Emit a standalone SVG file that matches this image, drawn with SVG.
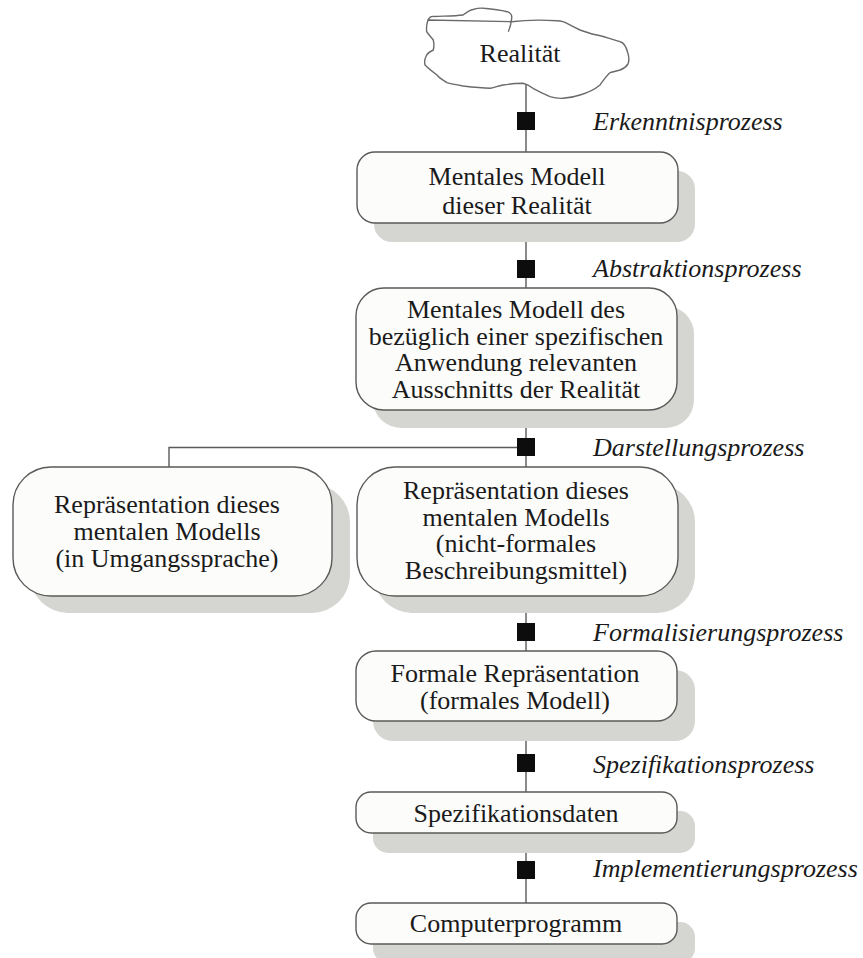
<svg xmlns="http://www.w3.org/2000/svg" width="863" height="958" viewBox="0 0 863 958">
  <style>
    .box { fill: #fcfcfa; stroke: #5a5a5a; stroke-width: 1.4; }
    .shadow { fill: #d5d5d1; }
    .line { fill: none; stroke: #5a5a5a; stroke-width: 1.4; }
    .mark { fill: #0d0d0d; }
    .txt { font-family: "Liberation Serif", "Times New Roman", serif; font-size: 26px; fill: #1a1a1a; text-anchor: middle; }
    .lbl { font-family: "Liberation Serif", "Times New Roman", serif; font-size: 26px; font-style: italic; fill: #1a1a1a; }
  </style>
  <rect width="863" height="958" fill="#ffffff"/>

  <!-- connectors -->
  <g id="connectors">
    <path class="line" d="M526 83 V152"/>
    <path class="line" d="M526 223 V288"/>
    <path class="line" d="M526 410 V467"/>
    <path class="line" d="M526 447.5 H169 V467"/>
    <path class="line" d="M526 596 V651"/>
    <path class="line" d="M526 721 V792"/>
    <path class="line" d="M526 833 V903"/>
    <rect class="mark" x="517" y="112" width="18" height="18"/>
    <rect class="mark" x="517" y="260" width="18" height="18"/>
    <rect class="mark" x="517" y="438" width="18" height="18"/>
    <rect class="mark" x="517" y="623" width="18" height="18"/>
    <rect class="mark" x="517" y="754" width="18" height="18"/>
    <rect class="mark" x="517" y="861" width="18" height="18"/>
  </g>

  <!-- process labels -->
  <g id="labels">
    <text class="lbl" x="593" y="130">Erkenntnisprozess</text>
    <text class="lbl" x="593" y="277">Abstraktionsprozess</text>
    <text class="lbl" x="593" y="456">Darstellungsprozess</text>
    <text class="lbl" x="593" y="641">Formalisierungsprozess</text>
    <text class="lbl" x="593" y="773">Spezifikationsprozess</text>
    <text class="lbl" x="593" y="877">Implementierungsprozess</text>
  </g>

  <g id="realitaet">
    <path fill="#ffffff" stroke="#6a6a6a" stroke-width="1.4" d="M428 20 C430 17 431 16 434 16.5 C445 16 455 16 463 15 C467 12 470 10 473 9.5 C478 8 482 8 484 8.3 C492 9 500 10 507 11.7 C511 13 512 16 511.7 18.3 C511 24 510 28 508.3 31.7 M511.5 21.7 C525 20 545 20 557 20.7 C562 21 565 22 567 23.3 C572 26 576 28 580 30 C586 32 591 34 597 35 C606 37 614 40 620 41.7 C624 42.5 626 46 627.5 52 C629 56 629.5 60 628 64 C626 67 623 69 620 70 C616 71 612 72 610 72.7 C606 76 603 81 600 85 C594 90 587 93 580 95 C574 97 568 98 563 98.3 C558 98.5 554 98 550 96.7 C544 94 538 91 533 88.3 C530 86 526 84 523 83.3 C516 83.5 509 84 503 85 C498 86 494 87.5 490 88.3 C481 88 472 87 463 86 C457 85 451 84 447 82.7 C443 80 439 78 437 75 C433 72 428 68 425 65 C424 61 425 58 426.7 55 C428 53 431 51 433.3 50 C434 47 434 43 433.3 40 C431 37 428 34 426.7 31.7 C426 27 427 23 428 20 Z"/>
    <text class="txt" x="520" y="62">Realität</text>
  </g>

  <g id="mentales-modell">
    <rect class="shadow" x="374" y="171" width="321" height="71" rx="18"/>
    <rect class="box" x="357" y="152" width="321" height="71" rx="18"/>
    <text class="txt" x="517" y="185">Mentales Modell</text>
    <text class="txt" x="517" y="214">dieser Realität</text>
  </g>

  <g id="relevanter-ausschnitt">
    <rect class="shadow" x="373" y="306" width="321" height="122" rx="28"/>
    <rect class="box" x="356" y="288" width="321" height="122" rx="28"/>
    <text class="txt" x="516" y="318">Mentales Modell des</text>
    <text class="txt" x="516" y="344.5">bezüglich einer spezifischen</text>
    <text class="txt" x="516" y="371">Anwendung relevanten</text>
    <text class="txt" x="516" y="397.5">Ausschnitts der Realität</text>
  </g>

  <g id="umgangssprache">
    <rect class="shadow" x="30" y="484" width="320" height="129" rx="38"/>
    <rect class="box" x="13" y="467" width="319" height="129" rx="38"/>
    <text class="txt" x="167" y="512.5">Repräsentation dieses</text>
    <text class="txt" x="167" y="540">mentalen Modells</text>
    <text class="txt" x="167" y="567">(in Umgangssprache)</text>
  </g>

  <g id="nicht-formal">
    <rect class="shadow" x="374" y="484" width="321" height="129" rx="38"/>
    <rect class="box" x="357" y="467" width="321" height="129" rx="38"/>
    <text class="txt" x="516" y="499">Repräsentation dieses</text>
    <text class="txt" x="516" y="525.5">mentalen Modells</text>
    <text class="txt" x="516" y="552">(nicht-formales</text>
    <text class="txt" x="516" y="578.5">Beschreibungsmittel)</text>
  </g>

  <g id="formales-modell">
    <rect class="shadow" x="373" y="670" width="322" height="71" rx="20"/>
    <rect class="box" x="356" y="651" width="321" height="70" rx="20"/>
    <text class="txt" x="515" y="682">Formale Repräsentation</text>
    <text class="txt" x="515" y="708.5">(formales Modell)</text>
  </g>

  <g id="spezifikationsdaten">
    <rect class="shadow" x="373" y="811" width="322" height="42" rx="15"/>
    <rect class="box" x="356" y="792" width="321" height="41" rx="15"/>
    <text class="txt" x="516" y="822">Spezifikationsdaten</text>
  </g>

  <g id="computerprogramm">
    <rect class="shadow" x="373" y="922" width="322" height="41" rx="15"/>
    <rect class="box" x="356" y="903" width="321" height="41" rx="15"/>
    <text class="txt" x="516" y="932">Computerprogramm</text>
  </g>
</svg>
